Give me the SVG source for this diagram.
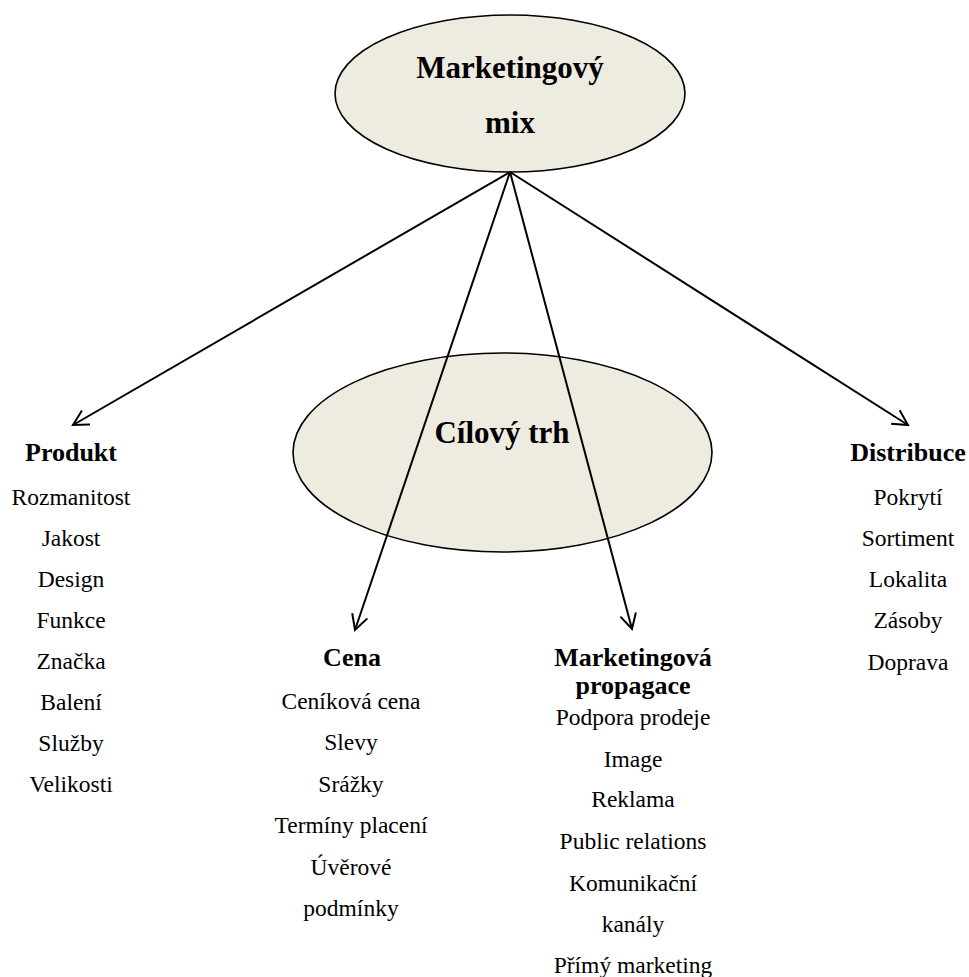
<svg xmlns="http://www.w3.org/2000/svg" width="969" height="977" viewBox="0 0 969 977">
<style>
.bg{fill:#ffffff}
.ell{fill:#eeece1;stroke:#000;stroke-width:1.6}
.conn{stroke:#000;stroke-width:2;fill:none}
.t1{font-family:"Liberation Serif","Times New Roman",serif;font-weight:bold;font-size:31px;text-anchor:middle;fill:#000}
.t2{font-family:"Liberation Serif","Times New Roman",serif;font-weight:bold;font-size:26px;text-anchor:middle;fill:#000}
.t3{font-family:"Liberation Serif","Times New Roman",serif;font-size:23.5px;text-anchor:middle;fill:#000}
</style>
<defs>
<marker id="arr" markerUnits="userSpaceOnUse" viewBox="-18 -10 20 20" refX="0" refY="0" markerWidth="20" markerHeight="20" orient="auto">
<path d="M -15 -8 L 0 0 L -15 8" fill="none" stroke="#000" stroke-width="2"/>
</marker>
</defs>
<rect class="bg" x="0" y="0" width="969" height="977"/>
<g id="node-cilovy-trh">
<ellipse class="ell" cx="502.5" cy="452.5" rx="209.5" ry="99.5"/>
<text class="t1" x="502" y="443">Cílový trh</text>
</g>
<g id="node-marketingovy-mix">
<ellipse class="ell" cx="510" cy="93.5" rx="175" ry="78.5"/>
<text class="t1" x="510" y="78">Marketingový</text>
<text class="t1" x="510" y="133">mix</text>
</g>
<g id="connectors">
<line class="conn" x1="510" y1="172" x2="73" y2="425" marker-end="url(#arr)"/>
<line class="conn" x1="510" y1="172" x2="355" y2="630" marker-end="url(#arr)"/>
<line class="conn" x1="510" y1="172" x2="632" y2="629" marker-end="url(#arr)"/>
<line class="conn" x1="510" y1="172" x2="908" y2="425" marker-end="url(#arr)"/>
</g>
<g id="node-produkt">
<text class="t2" x="71" y="461">Produkt</text>
<text class="t3" x="71" y="505">Rozmanitost</text>
<text class="t3" x="71" y="546">Jakost</text>
<text class="t3" x="71" y="587">Design</text>
<text class="t3" x="71" y="628">Funkce</text>
<text class="t3" x="71" y="669">Značka</text>
<text class="t3" x="71" y="710">Balení</text>
<text class="t3" x="71" y="751">Služby</text>
<text class="t3" x="71" y="792">Velikosti</text>
</g>
<g id="node-cena">
<text class="t2" x="352" y="666">Cena</text>
<text class="t3" x="351" y="709">Ceníková cena</text>
<text class="t3" x="351" y="750">Slevy</text>
<text class="t3" x="351" y="792">Srážky</text>
<text class="t3" x="351" y="833">Termíny placení</text>
<text class="t3" x="351" y="875">Úvěrové</text>
<text class="t3" x="351" y="916">podmínky</text>
</g>
<g id="node-propagace">
<text class="t2" x="633" y="666">Marketingová</text>
<text class="t2" x="633" y="694">propagace</text>
<text class="t3" x="633" y="725">Podpora prodeje</text>
<text class="t3" x="633" y="767">Image</text>
<text class="t3" x="633" y="807">Reklama</text>
<text class="t3" x="633" y="849">Public relations</text>
<text class="t3" x="633" y="891">Komunikační</text>
<text class="t3" x="633" y="932">kanály</text>
<text class="t3" x="633" y="973">Přímý marketing</text>
</g>
<g id="node-distribuce">
<text class="t2" x="908" y="461">Distribuce</text>
<text class="t3" x="908" y="505">Pokrytí</text>
<text class="t3" x="908" y="546">Sortiment</text>
<text class="t3" x="908" y="587">Lokalita</text>
<text class="t3" x="908" y="628">Zásoby</text>
<text class="t3" x="908" y="670">Doprava</text>
</g>
</svg>
